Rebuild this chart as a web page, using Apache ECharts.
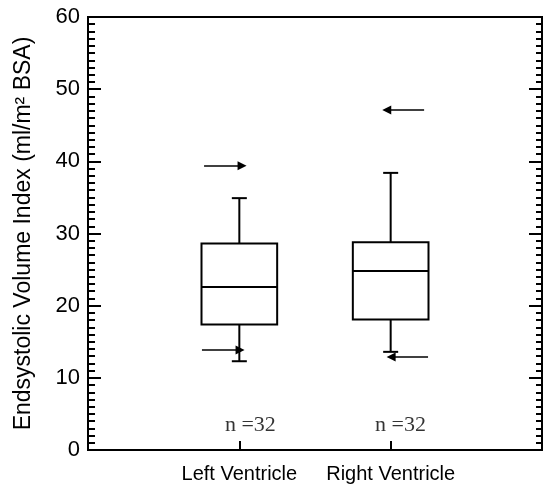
<!DOCTYPE html>
<html>
<head>
<meta charset="utf-8">
<script src="https://cdn.jsdelivr.net/npm/echarts@6/dist/echarts.min.js"></script>
<style>
  html, body { margin: 0; padding: 0; background: #fff; }
  #chart { width: 546px; height: 486px; }
</style>
</head>
<body>
<div id="chart"></div>
<script>
// box statistics per ventricle
const categories = ['Left Ventricle', 'Right Ventricle'];
const whiskerLow = [12.3, 13.6];
const quartile1 = [17.4, 18.1];
const median = [22.6, 24.8];
const quartile3 = [28.6, 28.8];
const whiskerHigh = [34.9, 38.4];
const sampleSizes = [32, 32];

// arrows: [xStart, xEnd, y] in slot units (category centres at 1 and 2)
const arrowStartX = [0.767, 0.753, 2.221, 2.247];
const arrowEndX = [1.018, 1.005, 1.974, 2.003];
const arrowY = [39.4, 13.85, 47.1, 12.9];

const nLabelX = [0.905, 1.897];
const nLabelY = 3.5;

const yMin = 0, yMax = 60, yStep = 10;

const chart = echarts.init(document.getElementById('chart'));

// slots: '' | left | right | ''  -> category centres sit at index 1 and 2
const slotNames = [''].concat(categories, ['']);

const boxData = categories.map((c, i) => [i + 1, whiskerLow[i], quartile1[i], median[i], quartile3[i], whiskerHigh[i]]);

const arrowData = arrowY.map((y, i) => ({ coords: [[arrowStartX[i], y], [arrowEndX[i], y]] }));

const nData = sampleSizes.map((n, i) => ({ value: [nLabelX[i], nLabelY], n: n }));

const renderBox = (params, api) => {
    const x = api.value(0);
    const lo = api.coord([x, api.value(1)]);
    const q1 = api.coord([x, api.value(2)]);
    const md = api.coord([x, api.value(3)]);
    const q3 = api.coord([x, api.value(4)]);
    const hi = api.coord([x, api.value(5)]);
    const boxW = api.size([1, 0])[0] * 0.5;
    const capW = 15;
    const cx = md[0];
    const style = { stroke: '#000', lineWidth: 2, fill: null };
    return {
        type: 'group',
        children: [
            { type: 'line', shape: { x1: cx, y1: q3[1], x2: cx, y2: hi[1] }, style: style },
            { type: 'line', shape: { x1: cx, y1: q1[1], x2: cx, y2: lo[1] }, style: style },
            { type: 'line', shape: { x1: cx - capW / 2, y1: hi[1], x2: cx + capW / 2, y2: hi[1] }, style: style },
            { type: 'line', shape: { x1: cx - capW / 2, y1: lo[1], x2: cx + capW / 2, y2: lo[1] }, style: style },
            { type: 'rect', shape: { x: cx - boxW / 2, y: q3[1], width: boxW, height: q1[1] - q3[1] },
              style: { stroke: '#000', lineWidth: 2, fill: '#fff' } },
            { type: 'line', shape: { x1: cx - boxW / 2, y1: md[1], x2: cx + boxW / 2, y2: md[1] }, style: style }
        ]
    };
};

const yAxisBase = {
    type: 'value',
    min: yMin,
    max: yMax,
    interval: yStep,
    splitLine: { show: false },
    axisLine: { show: true, lineStyle: { color: '#000', width: 2 } },
    axisTick: { show: true, inside: true, length: 13, lineStyle: { color: '#000', width: 2 } },
    minorTick: { show: true, splitNumber: 10, length: 7, lineStyle: { color: '#000', width: 2 } }
};

const option = {
    animation: false,
    backgroundColor: '#fff',
    grid: {
        left: 88, right: 4, top: 17, bottom: 36,
        show: true, borderColor: '#000', borderWidth: 2
    },
    xAxis: [
        {
            type: 'category',
            data: slotNames,
            boundaryGap: false,
            axisLine: { lineStyle: { color: '#000', width: 2 } },
            axisTick: {
                inside: true, length: 9,
                interval: (idx) => idx > 0 && idx < slotNames.length - 1,
                lineStyle: { color: '#000', width: 2 }
            },
            axisLabel: {
                interval: 0, margin: 14,
                color: '#000', fontSize: 20, fontFamily: 'Liberation Sans'
            }
        },
        {
            type: 'value',
            min: 0,
            max: slotNames.length - 1,
            show: false
        }
    ],
    yAxis: [
        Object.assign({}, yAxisBase, {
            position: 'left',
            name: 'Endsystolic Volume Index (ml/m² BSA)',
            nameLocation: 'middle',
            nameGap: 53,
            nameTextStyle: { color: '#000', fontSize: 23, fontFamily: 'Liberation Sans' },
            axisLabel: { color: '#000', fontSize: 22, fontFamily: 'Liberation Sans', margin: 8 }
        }),
        Object.assign({}, yAxisBase, {
            position: 'right',
            axisLabel: { show: false },
            axisTick: { show: true, inside: true, length: 13, lineStyle: { color: '#000', width: 2 } },
            minorTick: { show: true, splitNumber: 10, length: 6, lineStyle: { color: '#000', width: 2 } }
        })
    ],
    series: [
        {
            type: 'custom',
            xAxisIndex: 0,
            yAxisIndex: 0,
            renderItem: renderBox,
            data: boxData,
            z: 3
        },
        {
            type: 'lines',
            coordinateSystem: 'cartesian2d',
            xAxisIndex: 1,
            yAxisIndex: 0,
            symbol: ['none', 'triangle'],
            symbolSize: [6, 9],
            lineStyle: { color: '#000', width: 1.5, opacity: 1 },
            data: arrowData,
            z: 4
        },
        {
            type: 'scatter',
            xAxisIndex: 1,
            yAxisIndex: 0,
            symbolSize: 0,
            data: nData,
            label: {
                show: true,
                position: 'right',
                distance: 0,
                formatter: (p) => 'n =' + p.data.n,
                color: '#000',
                fontSize: 22,
                fontFamily: 'Liberation Serif'
            }
        }
    ]
};

chart.setOption(option);
window.addEventListener('resize', () => chart.resize());
</script>
</body>
</html>
